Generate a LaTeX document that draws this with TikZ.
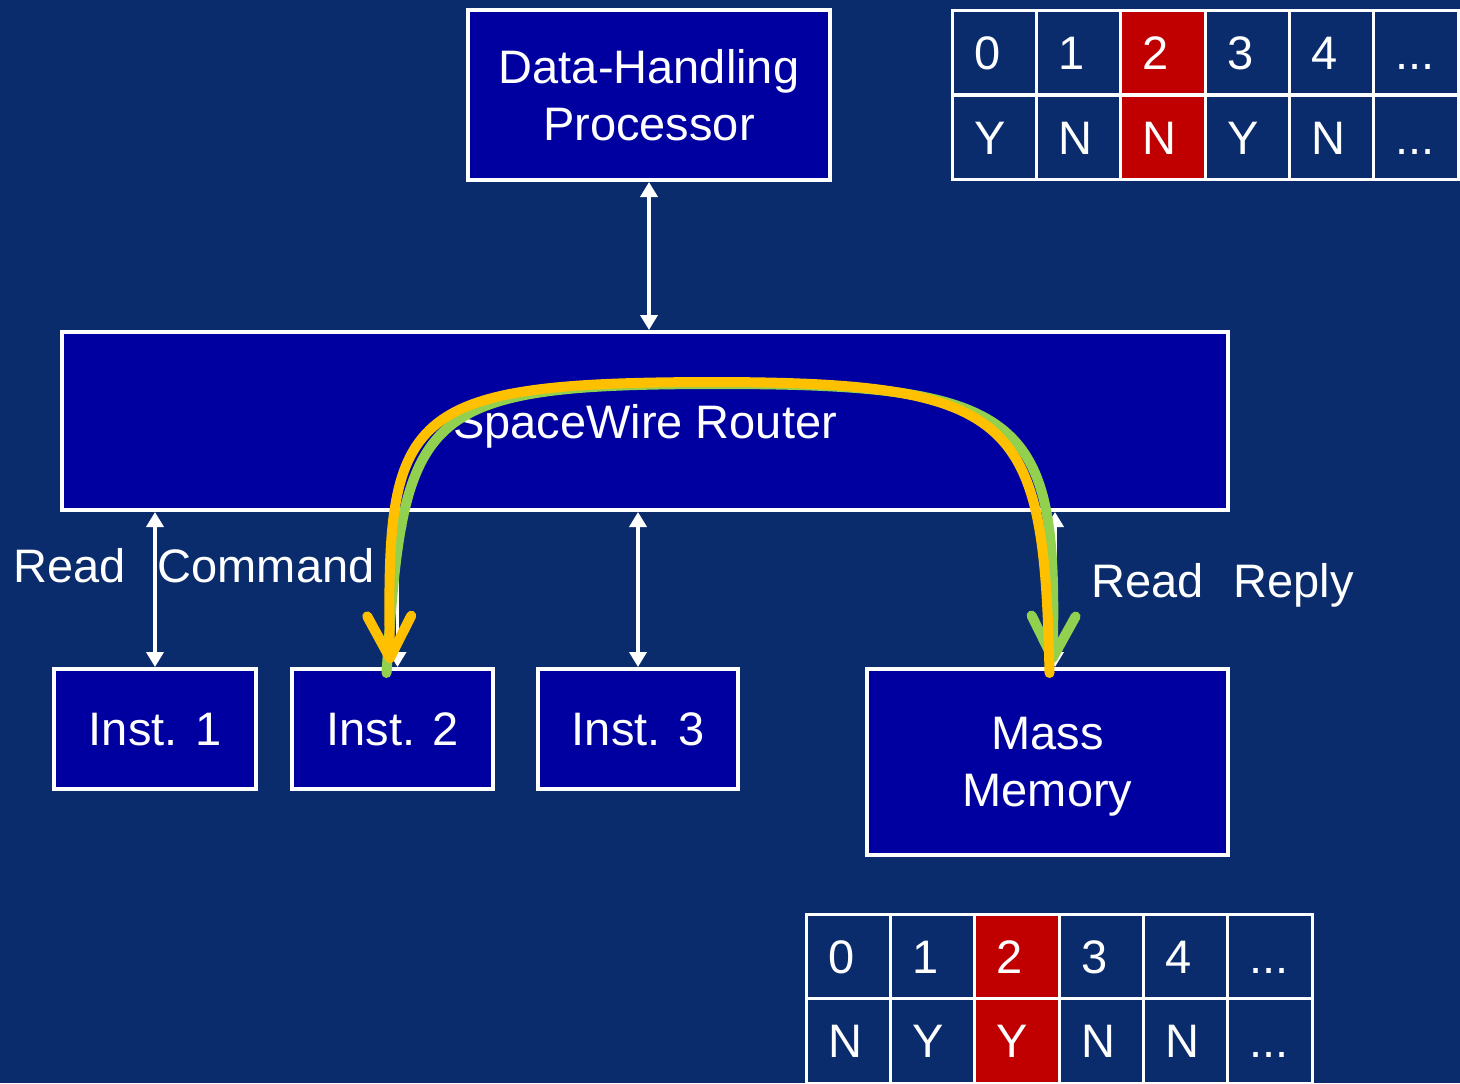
\documentclass[tikz,border=0pt]{standalone}
\usepackage{fontspec}
\setmainfont{Liberation Sans}
\usepackage{xcolor}
\usepackage{tikz}
\usetikzlibrary{positioning,arrows.meta,calc}

\definecolor{slidebg}{RGB}{10,44,108}
\definecolor{boxblue}{RGB}{0,0,160}
\definecolor{portred}{RGB}{192,0,0}
\definecolor{cmdyellow}{RGB}{255,192,0}
\definecolor{replygreen}{RGB}{146,208,80}
\newcommand{\portdots}{...}

\begin{document}
\begin{tikzpicture}[
  x=0.5pt, y=-0.5pt,
  font=\fontsize{23.5}{28.5}\selectfont,
  unit/.style={draw=white, line width=2pt, fill=boxblue, text=white,
               align=center, inner sep=0pt, text depth=0pt},
  cell/.style={draw=white, line width=1.5pt, text=white, inner ysep=0pt,
               inner xsep=11pt, text width=20.17pt, align=left,
               text height=16.8pt, text depth=0pt, minimum height=42.25pt},
  link/.style={{Triangle[length=7.5pt,width=8.5pt]}-{Triangle[length=7.5pt,width=8.5pt]},
               line width=1.8pt, white},
  route/.style={line width=5pt, line cap=round,
               -{Straight Barb[length=21pt,width=22pt,round]}},
  lbl/.style={text=white, inner sep=0pt},
]
\fill[slidebg] (0,0) rectangle (1460,1083);
\useasboundingbox (0,0) rectangle (1460,1083);

\node[unit, minimum width=181pt, minimum height=85pt] (dhp) at (649,95) {Data-Handling\\Processor};
\node[unit, minimum width=583pt, minimum height=89pt] (router) at (645,421) {SpaceWire Router};
\node[unit, minimum width=101pt, minimum height=60pt] (inst1) at (155,729) {Inst. 1};
\node[unit, minimum width=100.5pt, minimum height=60pt] (inst2) at (392.5,729) {Inst. 2};
\node[unit, minimum width=100pt, minimum height=60pt] (inst3) at (638,729) {Inst. 3};
\node[unit, minimum width=180.5pt, minimum height=93pt] (mem) at (1047.5,762) {Mass\\Memory};

% routing tables of the router
\foreach \c/\p/\v in {0/0/Y,1/1/N,2/2/N,3/3/Y,4/4/N,5/\portdots/\portdots}{
  \ifnum\c=2 \def\cf{portred}\else\def\cf{slidebg}\fi
  \node[cell, fill=\cf] (up\c) at ({994.2+84.33*\c},52.5) {\p};
  \node[cell, fill=\cf] (uv\c) at ({994.2+84.33*\c},137.5) {\v};
}
\foreach \c/\p/\v in {0/0/N,1/1/Y,2/2/Y,3/3/N,4/4/N,5/\portdots/\portdots}{
  \ifnum\c=2 \def\cf{portred}\else\def\cf{slidebg}\fi
  \node[cell, fill=\cf] (lp\c) at ({848.2+84.33*\c},957) {\p};
  \node[cell, fill=\cf] (lv\c) at ({848.2+84.33*\c},1041) {\v};
}

\draw[link] (dhp.south) -- (router.north -| dhp.south);
\draw[link] (router.south -| inst1.north) -- (inst1.north);
\draw[link] ([xshift=2.5pt]router.south -| inst2.north) -- ([xshift=2.5pt]inst2.north);
\draw[link] (router.south -| inst3.north) -- (inst3.north);
\draw[link] ([xshift=3.75pt]router.south -| mem.north) -- ([xshift=3.75pt]mem.north);

\node[lbl, anchor=base west] (rcmd) at (13,582) {Read\hspace{16pt}Command};
\node[lbl, anchor=base west] (rrep) at (1091,597) {Read\hspace{15pt}Reply};

% read reply and read command paths
\draw[route, replygreen] ([xshift=-3pt,yshift=-3pt]inst2.north) .. controls (404,410) and (415,384) .. (720,384)
  .. controls (1030,384) and (1058,420) .. ([xshift=2.5pt,yshift=2pt]mem.north);
\draw[route, cmdyellow] ([xshift=1pt,yshift=-3pt]mem.north) .. controls (1044,420) and (1020,383) .. (720,382)
  .. controls (400,382) and (386,410) .. ([xshift=-1.25pt,yshift=2pt]inst2.north);
\end{tikzpicture}
\end{document}
